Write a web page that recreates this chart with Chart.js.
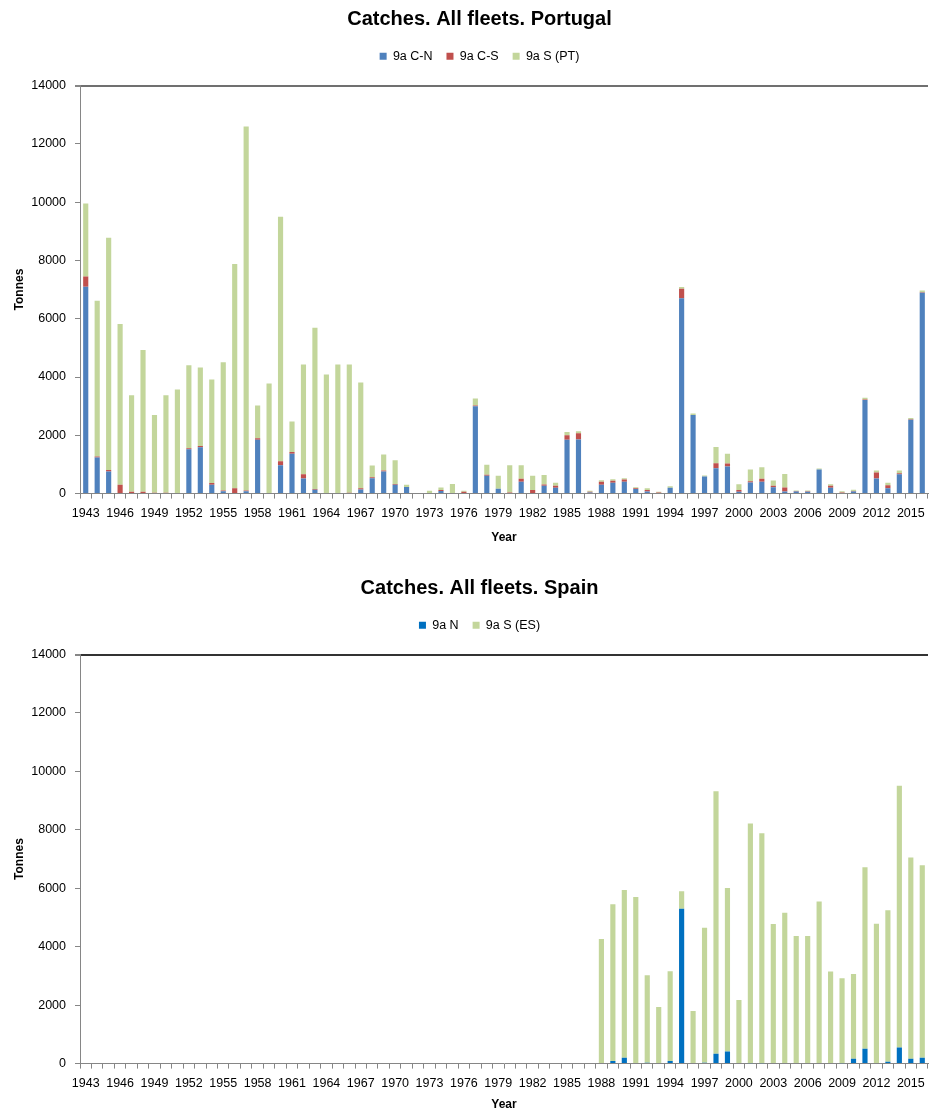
<!DOCTYPE html>
<html>
<head>
<meta charset="utf-8">
<title>Catches. All fleets</title>
<script src="https://cdn.jsdelivr.net/npm/chart.js@4.4.1/dist/chart.umd.min.js"></script>
<style>
  html, body { margin: 0; padding: 0; background: #ffffff; }
  body { width: 931px; height: 1110px; position: relative; overflow: hidden; }
  .panel { position: absolute; left: 0; width: 959px; }
  #panelPT { top: 0; height: 545px; }
  #panelES { top: 569px; height: 543px; }
</style>
</head>
<body>
<div class="panel" id="panelPT"><canvas id="chartPT" width="959" height="545"></canvas></div>
<div class="panel" id="panelES"><canvas id="chartES" width="959" height="543"></canvas></div>
<script>
// Years on the category axis
const years = [
  '1943','1944','1945','1946','1947','1948','1949','1950','1951','1952',
  '1953','1954','1955','1956','1957','1958','1959','1960','1961','1962',
  '1963','1964','1965','1966','1967','1968','1969','1970','1971','1972',
  '1973','1974','1975','1976','1977','1978','1979','1980','1981','1982',
  '1983','1984','1985','1986','1987','1988','1989','1990','1991','1992',
  '1993','1994','1995','1996','1997','1998','1999','2000','2001','2002',
  '2003','2004','2005','2006','2007','2008','2009','2010','2011','2012',
  '2013','2014','2015','2016'
];

// Year labels printed under the axis (every third year)
const yearTickLabels = [
  '1943','1946','1949','1952','1955','1958','1961','1964','1967','1970',
  '1973','1976','1979','1982','1985','1988','1991','1994','1997','2000',
  '2003','2006','2009','2012','2015'
];

// Tonnes axis
const tonnesMax = 14000;
const tonnesStep = 2000;

// Portugal catches (tonnes) by year
const pt_9aCN = [
  7100,1240, 760,   0,   0,   0,   0,   0,   0,1520,
  1590, 300,  80,   0,  80,1850,   0, 970,1370, 520,
   130,   0,   0,   0, 140, 530, 760, 300, 230,   0,
     0,  90,   0,   0,3000, 610, 170,   0, 410,  20,
   270, 200,1850,1860,  40, 300, 370, 410, 160,  70,
     0, 200,6700,2700, 590, 870, 930,  60, 380, 410,
   220,  70,  70,  60, 830, 200,  20,  70,3210, 520,
   180, 660,2530,6890
];
const pt_9aCS = [
   350,  30,  50, 300,  60,  60,  30,  30,  20,  40,
    40,  60,  30, 180,  30,  50,   0, 140,  60, 140,
    30,   0,   0,  30,  40,  30,  30,  30,   0,   0,
     0,  30,   0,  60,  20,  40,   0,  40, 100, 100,
    40,  70, 150, 210,  20, 110,  70,  70,  20,  50,
    40,   0, 330,   0,   0, 170, 100,  60,  40, 100,
    50, 140,  20,  20,   0,  70,  20,  20,  20, 200,
   110,  40,  20,  20
];
const pt_9aS = [
  2500,5350,7970,5520,3310,4870,2670,3340,3550,2840,
  2700,3550,4400,7700,12480,1120,3780,8390,1040,3770,
  5530,4090,4430,4400,3630, 400, 550, 810,  70,   0,
   100,  90, 330,  40, 240, 340, 440, 930, 460, 490,
   330, 100, 110,  70,  40,  50,  50,  50,  40,  60,
    20,  50,  60,  50,  30, 560, 340, 200, 410, 390,
   180, 460,  20,  30,  30,  50,  40,  40,  60,  70,
    80,  90,  40,  60
];

// Spain catches (tonnes) by year
const es_9aN = [
     0,   0,   0,   0,   0,   0,   0,   0,   0,   0,
     0,   0,   0,   0,   0,   0,   0,   0,   0,   0,
     0,   0,   0,   0,   0,   0,   0,   0,   0,   0,
     0,   0,   0,   0,   0,   0,   0,   0,   0,   0,
     0,   0,   0,   0,   0,   0,  90, 200,  20,  30,
     0,  90,5300,  20,  30, 340, 410,   0,  10,  10,
     0,   0,   0,   0,   0,   0,  10, 170, 510,  20,
    60, 550, 170, 200
];
const es_9aS = [
     0,   0,   0,   0,   0,   0,   0,   0,   0,   0,
     0,   0,   0,   0,   0,   0,   0,   0,   0,   0,
     0,   0,   0,   0,   0,   0,   0,   0,   0,   0,
     0,   0,   0,   0,   0,   0,   0,   0,   0,   0,
     0,   0,   0,   0,   0,4260,5360,5740,5680,2990,
  1940,3070, 600,1780,4620,8980,5600,2180,8210,7870,
  4780,5160,4370,4370,5550,3150,2910,2900,6210,4770,
  5190,8960,6880,6590
];

const FONT = "'Liberation Sans', Arial, sans-serif";
const TITLE_FONT = "'Liberation Sans Narrow', 'Liberation Sans', Arial, sans-serif";
const AXIS_GREY = '#868686';

Chart.defaults.font.family = FONT;
Chart.defaults.color = '#000000';

// Extra room between the legend row and the plot frame
const legendGap = {
  id: 'legendGap',
  beforeInit(chart) {
    const legend = chart.legend;
    if (!legend) return;
    const baseFit = legend.fit;
    legend.fit = function () {
      baseFit.call(this);
      this.height += 13;
    };
  }
};

function makeChart(canvasId, titleText, datasets, frameColor, yearTitleGap) {
  return new Chart(document.getElementById(canvasId), {
    type: 'bar',
    data: {
      labels: years,
      datasets: datasets.map(d => ({
        label: d.label,
        data: d.data,
        backgroundColor: d.color,
        borderWidth: 0,
        barPercentage: 0.45,
        categoryPercentage: 1.0,
        stack: 'catch'
      }))
    },
    plugins: [legendGap],
    options: {
      responsive: false,
      devicePixelRatio: 1,
      animation: false,
      layout: { padding: 0 },
      plugins: {
        title: {
          display: true,
          text: titleText,
          color: '#000000',
          font: { family: TITLE_FONT, size: 20, weight: 'bold' },
          padding: { top: 7, bottom: 5 }
        },
        legend: {
          display: true,
          position: 'top',
          labels: {
            boxWidth: 7,
            boxHeight: 7,
            padding: 14,
            color: '#000000',
            font: { size: 12.5 }
          }
        },
        tooltip: { enabled: false }
      },
      scales: {
        x: {
          stacked: true,
          offset: true,
          border: { display: true, color: AXIS_GREY, width: 1 },
          grid: {
            display: true,
            offset: true,
            drawOnChartArea: false,
            drawTicks: true,
            tickLength: 5,
            tickColor: AXIS_GREY
          },
          ticks: {
            autoSkip: false,
            maxRotation: 0,
            minRotation: 0,
            padding: 7,
            font: { size: 12.5 },
            color: '#000000',
            callback: function (value) {
              const lab = this.getLabelForValue(value);
              return yearTickLabels.includes(lab) ? lab : '';
            }
          },
          title: {
            display: true,
            text: 'Year',
            color: '#000000',
            font: { size: 12, weight: 'bold' },
            padding: { top: yearTitleGap, bottom: 0 }
          }
        },
        y: {
          stacked: true,
          position: 'left',
          min: 0,
          max: tonnesMax,
          border: { display: true, color: AXIS_GREY, width: 1 },
          grid: {
            display: true,
            drawOnChartArea: true,
            drawTicks: true,
            tickLength: 5,
            tickColor: AXIS_GREY,
            color: ctx => (ctx.tick && ctx.tick.value === tonnesMax) ? frameColor : 'rgba(0,0,0,0)',
            lineWidth: ctx => (ctx.tick && ctx.tick.value === tonnesMax) ? 2 : 1
          },
          ticks: {
            stepSize: tonnesStep,
            padding: 9,
            font: { size: 12.5 },
            color: '#000000',
            callback: value => String(value)
          },
          title: {
            display: true,
            text: 'Tonnes',
            color: '#000000',
            font: { size: 12, weight: 'bold' },
            padding: { top: 12, bottom: 0 }
          },
          afterFit: scale => { scale.width = 80; }
        },
        // empty right-hand margin so the plot ends short of the canvas edge
        yMargin: {
          type: 'linear',
          position: 'right',
          display: true,
          grid: { display: false },
          border: { display: false },
          ticks: { display: false },
          afterFit: scale => { scale.width = 31; }
        }
      }
    }
  });
}

makeChart('chartPT', 'Catches. All fleets. Portugal', [
  { label: '9a C-N', data: pt_9aCN, color: '#4F81BD' },
  { label: '9a C-S', data: pt_9aCS, color: '#C0504D' },
  { label: '9a S (PT)', data: pt_9aS, color: '#C3D69B' }
], '#707070', 3);

makeChart('chartES', 'Catches. All fleets. Spain', [
  { label: '9a N', data: es_9aN, color: '#0070C0' },
  { label: '9a S (ES)', data: es_9aS, color: '#C3D69B' }
], '#333333', 0);
</script>
</body>
</html>
